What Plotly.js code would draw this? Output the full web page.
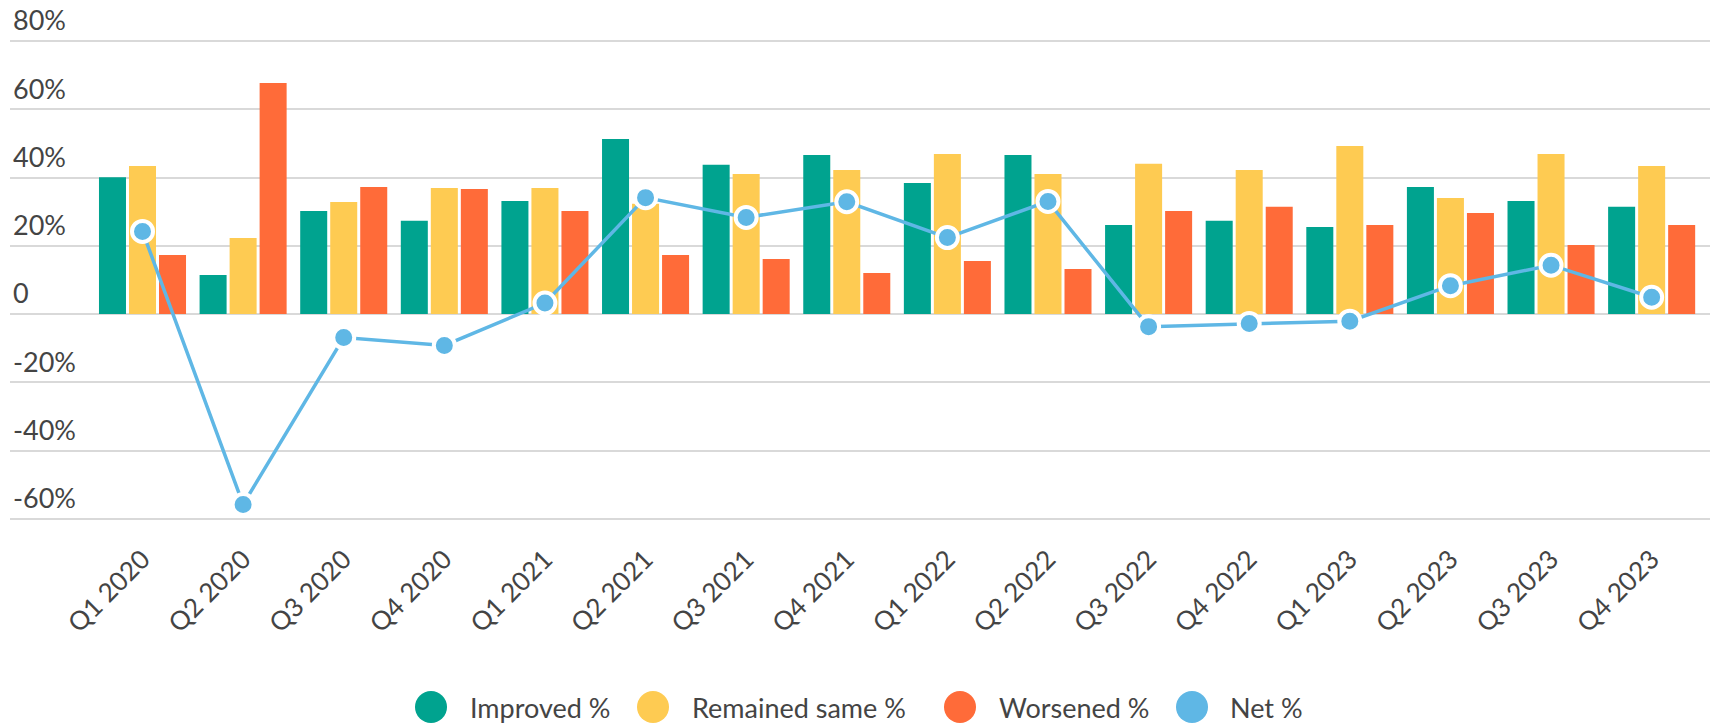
<!DOCTYPE html>
<html>
<head>
<meta charset="utf-8">
<script src="https://cdn.plot.ly/plotly-3.0.1.min.js"></script>
<style>
  html, body { margin: 0; padding: 0; background: #ffffff; }
  #chart { width: 1710px; height: 726px; }
</style>
</head>
<body>
<div id="chart"></div>
<script>
// ---- data ----
const categories = ["Q1 2020", "Q2 2020", "Q3 2020", "Q4 2020",
                    "Q1 2021", "Q2 2021", "Q3 2021", "Q4 2021",
                    "Q1 2022", "Q2 2022", "Q3 2022", "Q4 2022",
                    "Q1 2023", "Q2 2023", "Q3 2023", "Q4 2023"];
const improved = [40.1, 11.4, 30.2, 27.3, 33.1, 51.3, 43.7, 46.6, 38.4, 46.6, 26.1, 27.3, 25.5, 37.2, 33.1, 31.4];
const remainedSame = [43.4, 22.3, 32.8, 36.9, 36.9, 32.3, 41.0, 42.2, 46.9, 41.0, 44.0, 42.2, 49.2, 34.0, 46.9, 43.4];
const worsened = [17.3, 67.7, 37.2, 36.6, 30.2, 17.3, 16.1, 12.0, 15.5, 13.2, 30.2, 31.4, 26.1, 29.6, 20.2, 26.1];
const net = [24.2, -55.8, -6.9, -9.2, 3.2, 34.1, 28.3, 32.9, 22.4, 33.0, -3.7, -2.8, -2.1, 8.3, 14.3, 4.9];
const seriesNames = ["Improved %", "Remained same %", "Worsened %", "Net %"];
const yTickVals = [-60, -40, -20, 0, 20, 40, 60, 80];
const yTickText = ["-60%", "-40%", "-20%", "0", "20%", "40%", "60%", "80%"];

// ---- styles ----
const colors = ["#00A38F", "#FECB52", "#FF6B39", "#5FB7E5"];
const FONT = "Lato, 'Open Sans', sans-serif";
const TEXT_COLOR = "#444444";

const W = 1710, H = 726;
const M = { l: 10, r: 0, t: 0, b: 196 };
const plotW = W - M.l - M.r, plotH = H - M.t - M.b;

const traces = [
  { type: "bar", name: seriesNames[0], x: categories, y: improved, marker: { color: colors[0] }, showlegend: false, hoverinfo: "x+y+name" },
  { type: "bar", name: seriesNames[1], x: categories, y: remainedSame, marker: { color: colors[1] }, showlegend: false, hoverinfo: "x+y+name" },
  { type: "bar", name: seriesNames[2], x: categories, y: worsened, marker: { color: colors[2] }, showlegend: false, hoverinfo: "x+y+name" },
  { type: "scatter", mode: "lines+markers", name: seriesNames[3], x: categories, y: net,
    line: { color: colors[3], width: 3.5 },
    marker: { color: colors[3], size: 21, line: { color: "#ffffff", width: 4 } },
    showlegend: false, cliponaxis: false, hoverinfo: "x+y+name" }
];

// custom legend (large circular swatches)
const legendCircleX = [431, 653, 960, 1192];   // pixel centres
const legendTextX = [468, 690, 997, 1228];
const legendY = 707;
const px2paperX = p => (p - M.l) / plotW;
const px2paperY = p => (M.t + plotH - p) / plotH;

const shapes = seriesNames.map((n, i) => ({
  type: "circle", xref: "paper", yref: "paper",
  xsizemode: "pixel", ysizemode: "pixel",
  xanchor: px2paperX(legendCircleX[i]), yanchor: px2paperY(legendY),
  x0: -16, x1: 16, y0: -16, y1: 16,
  fillcolor: colors[i], line: { width: 0 }
}));
const annotations = seriesNames.map((n, i) => ({
  xref: "paper", yref: "paper",
  x: px2paperX(legendTextX[i]), y: px2paperY(legendY),
  xanchor: "left", yanchor: "middle", showarrow: false,
  text: n, font: { family: FONT, size: 27, color: TEXT_COLOR }
}));

const yPxPerUnit = 3.4125;           // 20% = 68.25px
const zeroPx = 314;
const yMax = (zeroPx - M.t) / yPxPerUnit;
const yMin = yMax - plotH / yPxPerUnit;

const layout = {
  width: W, height: H,
  margin: M,
  paper_bgcolor: "#ffffff", plot_bgcolor: "#ffffff",
  barmode: "group", bargap: 0.105, bargroupgap: 0.1,
  showlegend: false,
  font: { family: FONT, color: TEXT_COLOR },
  xaxis: {
    type: "category",
    range: [-1.317, 15.58],
    showgrid: false, zeroline: false, showline: false, ticks: "",
    tickangle: -45,
    tickfont: { family: FONT, size: 26, color: TEXT_COLOR },
    ticklabelstandoff: 8,
    automargin: false
  },
  yaxis: {
    range: [yMin, yMax],
    tickvals: yTickVals, ticktext: yTickText,
    showgrid: true, gridcolor: "#d9d9d9", gridwidth: 2,
    zeroline: false, showline: false, ticks: "",
    ticklabelposition: "inside",
    ticklabelshift: -20,
    ticklabelstandoff: 0,
    tickfont: { family: FONT, size: 27, color: TEXT_COLOR },
    automargin: false
  },
  shapes: shapes,
  annotations: annotations
};

Plotly.newPlot("chart", traces, layout, { displayModeBar: false, responsive: false });
</script>
</body>
</html>
